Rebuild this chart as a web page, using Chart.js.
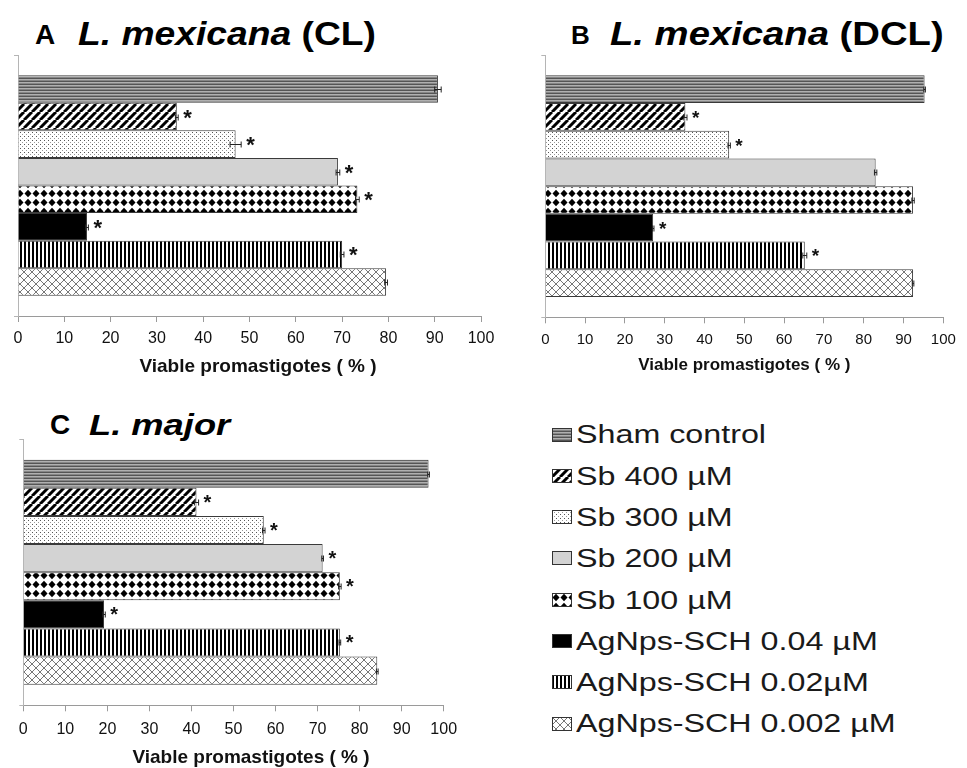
<!DOCTYPE html>
<html>
<head>
<meta charset="utf-8">
<script src="https://cdn.jsdelivr.net/npm/chart.js@4.4.1/dist/chart.umd.min.js"></script>
<style>
  html, body { margin: 0; padding: 0; background: #fff; }
  body { position: relative; width: 967px; height: 768px; overflow: hidden; font-family: "Liberation Sans", Arial, sans-serif; }
  canvas { position: absolute; }
  .t { position: absolute; font-weight: bold; line-height: 1; white-space: nowrap; color: #000; transform-origin: 0 0; }
  .tx { position: absolute; font-size: 25px; line-height: 1; color: #1a1a1a; white-space: nowrap; transform: scaleX(1.29); transform-origin: 0 0; }
</style>
</head>
<body>
<div class="t" style="left:35px;top:21px;font-size:28px">A</div>
<div class="t" style="left:78px;top:16px;font-size:34px;transform:scaleX(1.095)"><i>L. mexicana</i> (CL)</div>
<div class="t" style="left:571px;top:22px;font-size:26px">B</div>
<div class="t" style="left:610px;top:16px;font-size:34px;transform:scaleX(1.125)"><i>L. mexicana</i> (DCL)</div>
<div class="t" style="left:50px;top:411px;font-size:28px">C</div>
<div class="t" style="left:89px;top:410px;font-size:30px;transform:scaleX(1.21)"><i>L. major</i></div>

<canvas id="chA" width="500" height="385" style="left:0;top:0"></canvas>
<canvas id="chB" width="447" height="385" style="left:520px;top:0"></canvas>
<canvas id="chC" width="500" height="368" style="left:0;top:400px"></canvas>
<div id="legend"></div>

<script>
const series = ['Sham control', 'Sb 400 µM', 'Sb 300 µM', 'Sb 200 µM', 'Sb 100 µM',
  'AgNps-SCH 0.04 µM', 'AgNps-SCH 0.02µM', 'AgNps-SCH 0.002 µM'];
const tickValues = [0, 10, 20, 30, 40, 50, 60, 70, 80, 90, 100];
const xTitle = 'Viable promastigotes ( % )';

// A: L. mexicana (CL)
const clValues = [90.7, 34.3, 47.0, 69.1, 73.3, 14.9, 70.0, 79.5];
const clErrors = [0.7, 0.3, 1.2, 0.4, 0.4, 0.3, 0.4, 0.3];
const clSignif = [0, 1, 1, 1, 1, 1, 1, 0];

// B: L. mexicana (DCL)
const dclValues = [95.3, 35.2, 46.2, 83.0, 92.4, 27.1, 65.2, 92.4];
const dclErrors = [0.2, 0.4, 0.3, 0.3, 0.3, 0.2, 0.5, 0.2];
const dclSignif = [0, 1, 1, 0, 0, 1, 1, 0];

// C: L. major
const majorValues = [96.4, 41.2, 57.2, 71.2, 75.3, 19.2, 75.3, 84.2];
const majorErrors = [0.2, 0.5, 0.3, 0.2, 0.3, 0.3, 0.2, 0.2];
const majorSignif = [0, 1, 1, 1, 1, 1, 1, 0];

// hatch fills, one per series
function tile(w, h, draw) {
  const c = document.createElement('canvas');
  c.width = w; c.height = h;
  const g = c.getContext('2d');
  draw(g, w, h);
  return g.createPattern(c, 'repeat');
}
const fills = [
  tile(4, 3, g => {
    g.fillStyle = '#b0b0b0'; g.fillRect(0, 0, 4, 3);
    g.fillStyle = '#555'; g.fillRect(0, 0, 4, 1);
    g.fillStyle = '#868686'; g.fillRect(0, 2, 4, 1);
  }),
  tile(8, 8, g => {
    g.fillStyle = '#fff'; g.fillRect(0, 0, 8, 8);
    g.strokeStyle = '#000'; g.lineWidth = 3;
    g.beginPath();
    [-8, 0, 8].forEach(k => { g.moveTo(k, 8); g.lineTo(k + 8, 0); });
    g.stroke();
  }),
  tile(4, 4, g => {
    g.fillStyle = '#fff'; g.fillRect(0, 0, 4, 4);
    g.fillStyle = '#555'; g.fillRect(0, 0, 1, 1);
    g.fillStyle = '#999'; g.fillRect(2, 2, 1, 1);
  }),
  '#d3d3d3',
  tile(8, 9, g => {
    g.fillStyle = '#fff'; g.fillRect(0, 0, 8, 9);
    g.fillStyle = '#000';
    g.beginPath();
    g.moveTo(4, 0.8); g.lineTo(7.5, 4.5); g.lineTo(4, 8.2); g.lineTo(0.5, 4.5);
    g.closePath(); g.fill();
  }),
  '#000',
  tile(4, 1, g => {
    g.fillStyle = '#fff'; g.fillRect(0, 0, 4, 1);
    g.fillStyle = '#000'; g.fillRect(0, 0, 2, 1);
  }),
  tile(8, 8, g => {
    g.fillStyle = '#fff'; g.fillRect(0, 0, 8, 8);
    g.strokeStyle = '#777'; g.lineWidth = 1;
    g.beginPath();
    g.moveTo(0, 0); g.lineTo(8, 8); g.moveTo(0, 8); g.lineTo(8, 0);
    g.stroke();
  })
];

// error bars, significance stars and the x axis title
const markPlugin = {
  id: 'marks',
  afterDatasetsDraw(chart, args, opts) {
    const ctx = chart.ctx, xs = chart.scales.x;
    ctx.save();
    chart.data.datasets.forEach((ds, i) => {
      const bar = chart.getDatasetMeta(i).data[0];
      const v = ds.data[0], e = opts.errors[i];
      const x1 = xs.getPixelForValue(v - e), x2 = xs.getPixelForValue(v + e);
      const y = Math.round(bar.y) + 0.5;
      ctx.strokeStyle = '#222';
      ctx.lineWidth = 1;
      ctx.beginPath();
      ctx.moveTo(x1, y); ctx.lineTo(x2, y);
      ctx.moveTo(x1, y - 3); ctx.lineTo(x1, y + 3);
      ctx.moveTo(x2, y - 3); ctx.lineTo(x2, y + 3);
      ctx.stroke();
      if (opts.signif[i]) {
        ctx.fillStyle = '#111';
        ctx.font = 'bold ' + opts.star + 'px "Liberation Sans"';
        ctx.textBaseline = 'middle';
        ctx.textAlign = 'left';
        ctx.fillText('*', x2 + 5, y + 1);
      }
    });
    // axis title, shifted off the axis centre as in the original
    ctx.fillStyle = '#111';
    ctx.font = 'bold ' + opts.titleSize + 'px "Liberation Sans"';
    ctx.textAlign = 'center';
    ctx.textBaseline = 'middle';
    ctx.fillText(xTitle, (xs.left + xs.right) / 2 + opts.titleDx, opts.titleY);
    ctx.restore();
  }
};

function makeChart(id, values, errors, signif, g) {
  const canvas = document.getElementById(id);
  const H = canvas.height;
  return new Chart(canvas, {
    type: 'bar',
    data: {
      labels: [''],
      datasets: series.map((name, i) => ({
        label: name,
        data: [values[i]],
        backgroundColor: fills[i],
        borderColor: '#3a3a3a',
        borderWidth: 1,
        categoryPercentage: 0.845,
        barPercentage: 1
      }))
    },
    options: {
      indexAxis: 'y',
      responsive: false,
      animation: false,
      layout: { padding: { left: g.left, right: g.right, top: g.top, bottom: 0 } },
      plugins: {
        legend: { display: false },
        tooltip: { enabled: false },
        marks: { errors: errors, signif: signif, star: g.star, titleSize: g.title, titleDx: g.titleDx, titleY: g.titleY }
      },
      scales: {
        x: {
          min: 0,
          max: 100,
          afterBuildTicks: s => { s.ticks = tickValues.map(v => ({ value: v })); },
          afterFit: s => { s.paddingLeft = 0; s.paddingRight = 0; s.height = H - g.bottom; },
          grid: { display: true, drawOnChartArea: false, color: '#9a9a9a', tickLength: 6 },
          border: { display: true, color: '#9a9a9a' },
          ticks: {
            color: '#111', padding: g.tickPad, maxRotation: 0, autoSkip: false,
            font: { family: 'Liberation Sans', size: g.tick, lineHeight: 1 }
          },
          title: { display: false }
        },
        y: {
          afterFit: s => { s.width = 0; },
          grid: { display: true, drawOnChartArea: false, color: '#b5b5b5', tickLength: 4 },
          border: { display: true, color: '#b5b5b5' },
          ticks: { display: false }
        }
      }
    },
    plugins: [markPlugin]
  });
}

makeChart('chA', clValues, clErrors, clSignif,
  { left: 18, right: 19, top: 55, bottom: 316, tick: 16, tickPad: 9, title: 19, titleDx: 8.5, titleY: 367, star: 22 });
makeChart('chB', dclValues, dclErrors, dclSignif,
  { left: 25.3, right: 23.7, top: 55, bottom: 317.3, tick: 15, tickPad: 9, title: 17, titleDx: 0, titleY: 365, star: 19 });
makeChart('chC', majorValues, majorErrors, majorSignif,
  { left: 23.3, right: 56.3, top: 39, bottom: 305.3, tick: 16, tickPad: 10, title: 19, titleDx: 17.5, titleY: 358, star: 20 });

// legend
const lg = document.getElementById('legend');
series.forEach((name, i) => {
  const yc = 434.5 + i * 41.3;
  const sw = document.createElement('canvas');
  sw.width = 20; sw.height = 14;
  sw.style.left = '552px';
  sw.style.top = Math.round(yc - 7) + 'px';
  const g = sw.getContext('2d');
  g.fillStyle = fills[i];
  g.fillRect(0, 0, 20, 14);
  g.strokeStyle = '#333';
  g.lineWidth = 1;
  g.strokeRect(0.5, 0.5, 19, 13);
  lg.appendChild(sw);
  const tx = document.createElement('div');
  tx.className = 'tx';
  tx.textContent = name;
  tx.style.left = '576px';
  tx.style.top = (yc - 12.2) + 'px';
  lg.appendChild(tx);
});
</script>
</body>
</html>
